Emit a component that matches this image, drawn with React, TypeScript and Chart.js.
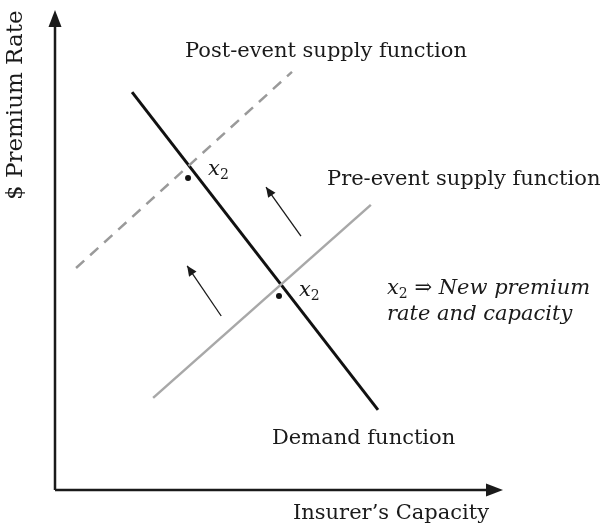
import React, { useEffect, useRef } from "react";
import { Chart, registerables } from "chart.js";
Chart.register(...registerables);

// Abstract units: capacity (x) 0..100, premium rate (y) 0..100
const demandX = [17.2, 72.1];
const demandY = [82.9, 16.7];
const preSupplyX = [21.9, 70.5];
const preSupplyY = [19.2, 59.4];
const postSupplyX = [4.7, 52.9];
const postSupplyY = [46.25, 87.1];
const eqPointsX = [29.7, 50.0];
const eqPointsY = [65.0, 40.4];
const arrowAX = [37.1, 29.5];
const arrowAY = [36.25, 46.7];
const arrowBX = [54.9, 47.1];
const arrowBY = [52.9, 63.1];

const SERIF = '"DejaVu Serif", "Liberation Serif", serif';

const toPts = (xs: number[], ys: number[]) => xs.map((x, i) => ({ x, y: ys[i] }));

const annotPlugin = {
  id: "annot",
  afterDatasetsDraw(chart: any) {
    const ctx = chart.ctx as CanvasRenderingContext2D;
    const { left, right, top, bottom } = chart.chartArea;
    const xs = chart.scales.x;
    const ys = chart.scales.y;
    ctx.save();
    // axes
    ctx.strokeStyle = "#1a1a1a";
    ctx.fillStyle = "#1a1a1a";
    ctx.lineWidth = 2.5;
    ctx.beginPath();
    ctx.moveTo(left, bottom);
    ctx.lineTo(left, top + 10);
    ctx.moveTo(left, bottom);
    ctx.lineTo(right - 10, bottom);
    ctx.stroke();
    ctx.beginPath();
    ctx.moveTo(left, top);
    ctx.lineTo(left - 6.5, top + 17);
    ctx.lineTo(left + 6.5, top + 17);
    ctx.closePath();
    ctx.fill();
    ctx.beginPath();
    ctx.moveTo(right, bottom);
    ctx.lineTo(right - 17, bottom - 6.5);
    ctx.lineTo(right - 17, bottom + 6.5);
    ctx.closePath();
    ctx.fill();

    // arrowheads for arrow datasets
    chart.data.datasets.forEach((ds: any, i: number) => {
      if (!ds.isArrow) return;
      const meta = chart.getDatasetMeta(i);
      const p0 = meta.data[0];
      const p1 = meta.data[meta.data.length - 1];
      const ang = Math.atan2(p1.y - p0.y, p1.x - p0.x);
      const L = 10, W = 4.5;
      ctx.beginPath();
      ctx.moveTo(p1.x, p1.y);
      ctx.lineTo(p1.x - L * Math.cos(ang) + W * Math.sin(ang), p1.y - L * Math.sin(ang) - W * Math.cos(ang));
      ctx.lineTo(p1.x - L * Math.cos(ang) - W * Math.sin(ang), p1.y - L * Math.sin(ang) + W * Math.cos(ang));
      ctx.closePath();
      ctx.fillStyle = "#1a1a1a";
      ctx.fill();
    });

    // text
    ctx.fillStyle = "#1a1a1a";
    ctx.textBaseline = "alphabetic";
    ctx.textAlign = "left";
    ctx.font = `21px ${SERIF}`;
    const put = (t: string, px: number, py: number) => ctx.fillText(t, px, py);
    put("Post-event supply function", 185, 57);
    put("Pre-event supply function", 327, 185);
    put("Demand function", 272, 444);
    put("Insurer\u2019s Capacity", 293, 519);

    // x2 labels near equilibrium points
    const x2 = (px: number, py: number) => {
      ctx.font = `italic 21px ${SERIF}`;
      ctx.fillText("x", px, py);
      const w = ctx.measureText("x").width;
      ctx.font = `14px ${SERIF}`;
      ctx.fillText("2", px + w, py + 4);
      return w + ctx.measureText("2").width;
    };
    x2(xs.getPixelForValue(eqPointsX[0]) + 20, ys.getPixelForValue(eqPointsY[0]) - 3);
    x2(xs.getPixelForValue(eqPointsX[1]) + 20, ys.getPixelForValue(eqPointsY[1]) - 0);

    const w = x2(387, 294);
    ctx.font = `italic 21px ${SERIF}`;
    ctx.fillText(" \u21D2 New premium", 387 + w, 294);
    ctx.fillText("rate and capacity", 387, 320);

    // y axis title
    ctx.save();
    ctx.translate(22, 200);
    ctx.rotate(-Math.PI / 2);
    ctx.font = `23px ${SERIF}`;
    ctx.fillText("$ Premium Rate", 0, 0);
    ctx.restore();

    ctx.restore();
  },
};

export default function App() {
  const ref = useRef<HTMLCanvasElement>(null);
  useEffect(() => {
    document.body.style.margin = "0";
    const chart = new Chart(ref.current!, {
      type: "line",
      data: {
        datasets: [
          {
            label: "Post-event supply function",
            data: toPts(postSupplyX, postSupplyY),
            borderColor: "#9a9a9a",
            borderWidth: 2.5,
            borderDash: [11, 8],
            pointRadius: 0,
          },
          {
            label: "Pre-event supply function",
            data: toPts(preSupplyX, preSupplyY),
            borderColor: "#a8a8a8",
            borderWidth: 2.5,
            pointRadius: 0,
          },
          {
            label: "Demand function",
            data: toPts(demandX, demandY),
            borderColor: "#111111",
            borderWidth: 3,
            pointRadius: 0,
          },
          {
            label: "arrowA",
            data: toPts(arrowAX, arrowAY),
            borderColor: "#1a1a1a",
            borderWidth: 1.3,
            pointRadius: 0,
            isArrow: true,
          } as any,
          {
            label: "arrowB",
            data: toPts(arrowBX, arrowBY),
            borderColor: "#1a1a1a",
            borderWidth: 1.3,
            pointRadius: 0,
            isArrow: true,
          } as any,
          {
            label: "x2",
            data: toPts(eqPointsX, eqPointsY),
            showLine: false,
            pointRadius: 3,
            pointBackgroundColor: "#111111",
            pointBorderWidth: 0,
          },
        ],
      },
      options: {
        animation: false,
        responsive: false,
        layout: { padding: { left: 55, right: 99, top: 10, bottom: 39 } },
        plugins: { legend: { display: false }, tooltip: { enabled: false } },
        scales: {
          x: { type: "linear", min: 0, max: 100, display: false },
          y: { type: "linear", min: 0, max: 100, display: false },
        },
      },
      plugins: [annotPlugin],
    });
    return () => chart.destroy();
  }, []);
  return (
    <div style={{ width: 602, height: 529, background: "#fff" }}>
      <canvas ref={ref} width={602} height={529} style={{ display: "block" }} />
    </div>
  );
}
